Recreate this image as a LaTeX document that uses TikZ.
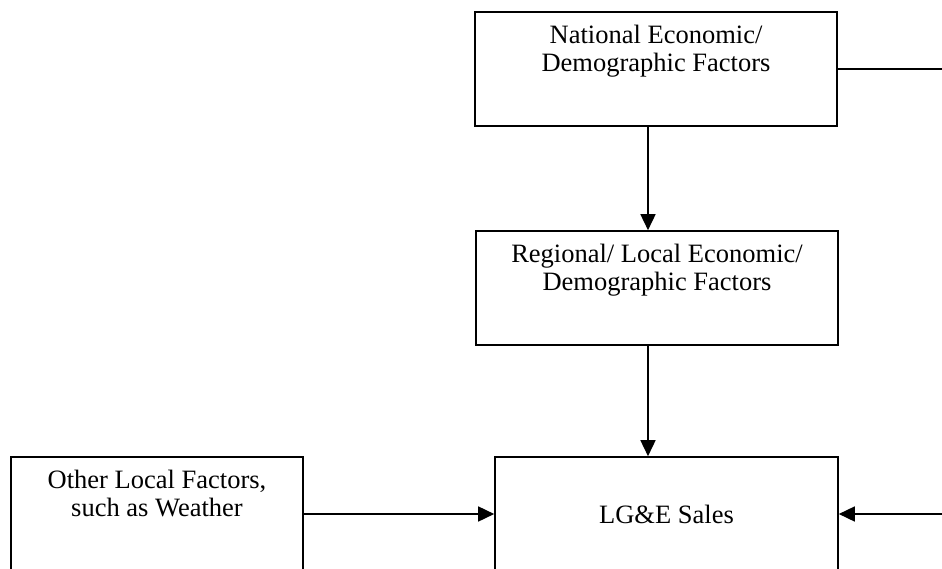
\documentclass[tikz,border=0pt]{standalone}
\usepackage{fontspec}
\setmainfont{Liberation Serif}
\usetikzlibrary{arrows.meta}

\begin{document}
\begin{tikzpicture}[x=1pt,y=-1pt,
    factor/.style={draw, line width=1.6pt, align=center, inner sep=0pt,
        minimum height=114pt, font=\fontsize{26.5}{28.5}\selectfont},
    link/.style={line width=1.6pt},
    arr/.style={link, -{Triangle[length=16pt,width=15pt]}}]
    % Page frame
    \useasboundingbox (0,0) rectangle (942,569);
    \clip (0,0) rectangle (942,569);
    \coordinate (edge) at (942,0);

    % Boxes
    \node[factor, minimum width=362pt] (nat) at (656,69)
        {National Economic/\\Demographic Factors\\[13pt]\mbox{}};
    \node[factor, minimum width=362pt] (reg) at (657,288)
        {Regional/ Local Economic/\\Demographic Factors\\[13pt]\mbox{}};
    \node[factor, minimum width=343pt] (sales) at (666.5,514) {LG\&E Sales};
    \node[factor, minimum width=292pt] (other) at (157,514)
        {Other Local Factors,\\such as Weather\\[13pt]\mbox{}};

    % Vertical arrows
    \draw[arr] ([xshift=-8pt]nat.south) -- ([xshift=-8pt]nat.south |- reg.north);
    \draw[arr] ([xshift=-9pt]reg.south) -- ([xshift=-9pt]reg.south |- sales.north);

    % Side arrows
    \draw[arr] (other.east) -- (other.east -| sales.west);
    \draw[link] (nat.east) -- (nat.east -| edge);
    \draw[arr] (edge |- sales.east) -- (sales.east);
\end{tikzpicture}
\end{document}
